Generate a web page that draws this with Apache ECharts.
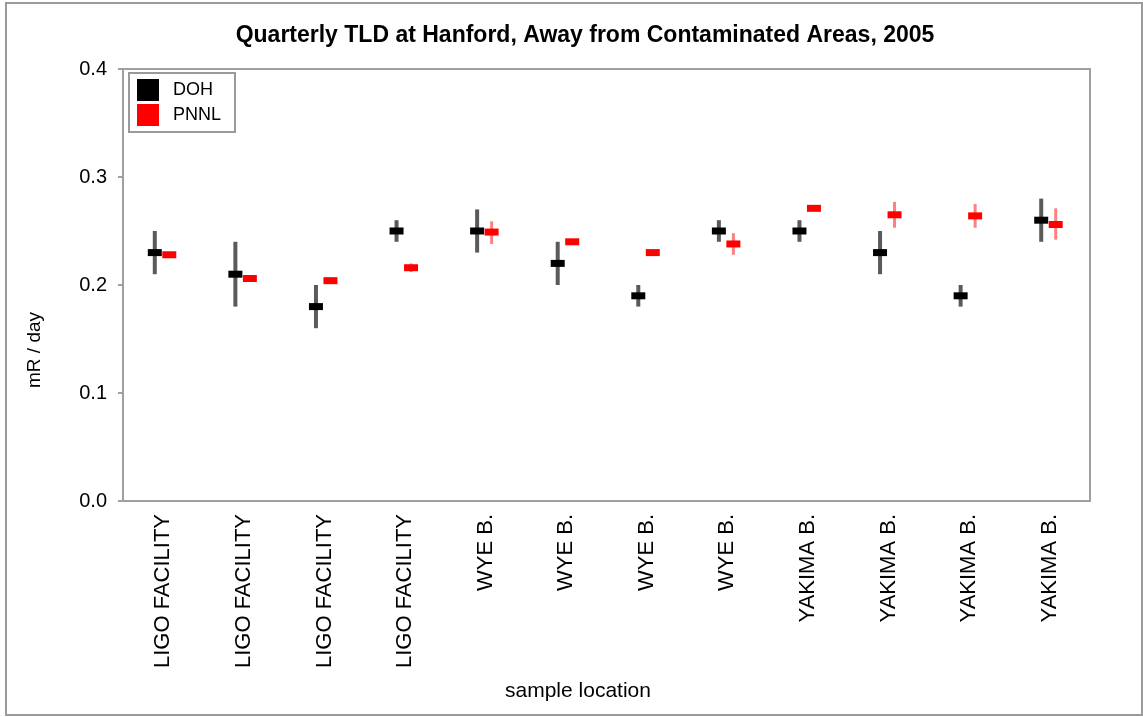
<!DOCTYPE html>
<html>
<head>
<meta charset="utf-8">
<script src="https://cdn.jsdelivr.net/npm/echarts@6/dist/echarts.min.js"></script>
<style>
html,body{margin:0;padding:0;background:#fff;}
#chart{width:1143px;height:717px;}
</style>
</head>
<body>
<div id="chart"></div>
<script>
const categories = ['LIGO FACILITY','LIGO FACILITY','LIGO FACILITY','LIGO FACILITY','WYE B.','WYE B.','WYE B.','WYE B.','YAKIMA B.','YAKIMA B.','YAKIMA B.','YAKIMA B.'];
const dohMean  = [0.23, 0.21, 0.18, 0.25, 0.25, 0.22, 0.19, 0.25, 0.25, 0.23, 0.19, 0.26];
const dohLow   = [0.21, 0.18, 0.16, 0.24, 0.23, 0.20, 0.18, 0.24, 0.24, 0.21, 0.18, 0.24];
const dohHigh  = [0.25, 0.24, 0.20, 0.26, 0.27, 0.24, 0.20, 0.26, 0.26, 0.25, 0.20, 0.28];
const pnnlMean = [0.228, 0.206, 0.204, 0.216, 0.249, 0.240, 0.230, 0.238, 0.271, 0.265, 0.264, 0.256];
const pnnlLow  = [0.226, 0.204, 0.203, 0.212, 0.238, 0.238, 0.229, 0.228, 0.270, 0.253, 0.253, 0.242];
const pnnlHigh = [0.230, 0.208, 0.205, 0.220, 0.259, 0.242, 0.231, 0.248, 0.272, 0.277, 0.275, 0.271];
const yTicks = [0, 0.1, 0.2, 0.3, 0.4];

const FONT = '"Liberation Sans", Arial, sans-serif';

function rows(mean, low, high) {
  return mean.map((m, i) => [i, m, low[i], high[i]]);
}

function makeRender(offset, barColor, barWidth, markColor) {
  return function (params, api) {
    const i = api.value(0);
    const c = api.coord([i, api.value(1)]);
    const lo = api.coord([i, api.value(2)]);
    const hi = api.coord([i, api.value(3)]);
    const x = c[0] + offset;
    return {
      type: 'group',
      children: [
        { type: 'line', shape: { x1: x, y1: hi[1], x2: x, y2: lo[1] },
          style: { stroke: barColor, lineWidth: barWidth } },
        { type: 'rect', shape: { x: x - 7, y: c[1] - 3.5, width: 14, height: 7 },
          style: { fill: markColor } }
      ]
    };
  };
}

const chart = echarts.init(document.getElementById('chart'));
chart.setOption({
  backgroundColor: '#fff',
  animation: false,
  title: {
    text: 'Quarterly TLD at Hanford, Away from Contaminated Areas, 2005',
    left: 580, top: 19, textAlign: 'center',
    textStyle: { fontFamily: FONT, fontSize: 23, fontWeight: 'bold', color: '#000' }
  },
  legend: {
    left: 129, top: 73,
    orient: 'vertical',
    itemWidth: 22, itemHeight: 22, itemGap: 3,
    padding: [6, 14, 6, 8],
    borderColor: '#9a9a9a', borderWidth: 2,
    backgroundColor: '#fff',
    textStyle: { fontFamily: FONT, fontSize: 18, color: '#000', padding: [0, 0, 0, 9] },
    data: [{ name: 'DOH', icon: 'rect' }, { name: 'PNNL', icon: 'rect' }]
  },
  grid: {
    left: 123, right: 53, top: 69, bottom: 216,
    show: true, borderColor: '#a0a0a0', borderWidth: 2, backgroundColor: '#fff'
  },
  xAxis: {
    type: 'category',
    data: categories,
    boundaryGap: true,
    axisLine: { lineStyle: { color: '#a0a0a0', width: 2 } },
    axisTick: { alignWithLabel: true, length: 7, lineStyle: { color: '#a0a0a0', width: 2 } },
    axisLabel: { rotate: 90, interval: 0, margin: 13, fontFamily: FONT, fontSize: 22, color: '#000' },
    splitLine: { show: false }
  },
  yAxis: {
    type: 'value',
    min: yTicks[0], max: yTicks[yTicks.length - 1], interval: 0.1,
    axisLine: { show: true, lineStyle: { color: '#a0a0a0', width: 2 } },
    axisTick: { show: true, length: 5, lineStyle: { color: '#a0a0a0', width: 2 } },
    axisLabel: { margin: 16, fontFamily: FONT, fontSize: 20, color: '#000',
      formatter: v => v.toFixed(1) },
    splitLine: { show: false }
  },
  graphic: [
    { type: 'rect', shape: { x: 6, y: 3, width: 1136, height: 712 },
      style: { fill: 'none', stroke: '#9a9a9a', lineWidth: 2 }, z: -1 },
    { type: 'text', left: 505, top: 681,
      style: { text: 'sample location', fontFamily: FONT, fontSize: 21, fill: '#000' } },
    { type: 'text', x: 35, y: 350, rotation: Math.PI / 2, originX: 0, originY: 0,
      style: { text: 'mR / day', fontFamily: FONT, fontSize: 19, fill: '#000', align: 'center', verticalAlign: 'middle' } }
  ],
  series: [
    { name: 'DOH', type: 'custom', itemStyle: { color: '#000' },
      renderItem: makeRender(-8.5, '#5a5a5a', 4, '#000'),
      encode: { x: 0, y: [1, 2, 3] },
      data: rows(dohMean, dohLow, dohHigh), z: 2 },
    { name: 'PNNL', type: 'custom', itemStyle: { color: '#ff0000' },
      renderItem: makeRender(6, '#ff8080', 3, '#ff0000'),
      encode: { x: 0, y: [1, 2, 3] },
      data: rows(pnnlMean, pnnlLow, pnnlHigh), z: 3 }
  ]
});
</script>
</body>
</html>
